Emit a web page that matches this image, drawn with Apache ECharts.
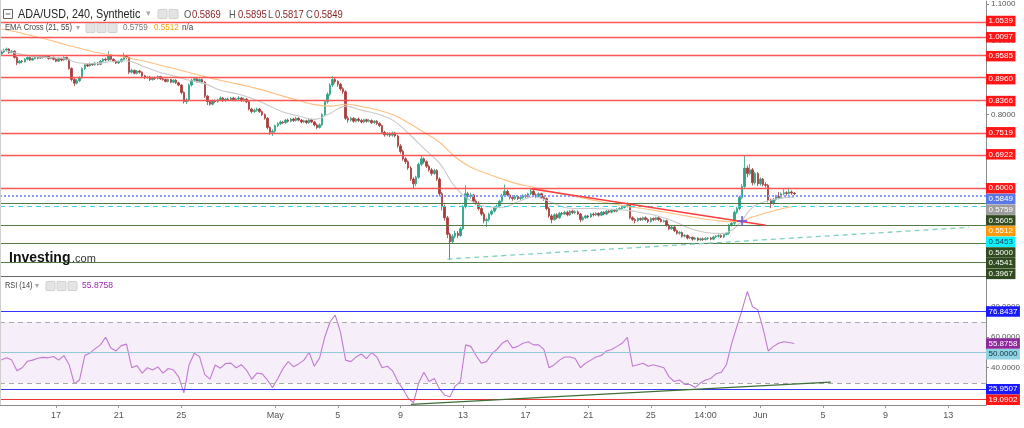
<!DOCTYPE html>
<html><head><meta charset="utf-8">
<script src="https://cdn.jsdelivr.net/npm/echarts@6/dist/echarts.min.js"></script>
<style>html,body{margin:0;padding:0;background:#fff;overflow:hidden}#c{width:1024px;height:428px}</style>
</head><body><div id="c"></div>
<script>
// ---------------- DATA ----------------
const symbolTitle = 'ADA/USD, 240, Synthetic';
const startTimeUTC = Date.UTC(2022, 3, 13, 14); // first 4h candle
const slotCount = 378;                          // visible 4h slots on the axis

const opens = [
0.965,0.970,0.975,0.978,0.968,0.972,0.955,0.940,0.945,0.943,
0.950,0.955,0.948,0.952,0.956,0.953,0.957,0.955,0.958,0.952,
0.955,0.950,0.945,0.952,0.948,0.955,0.950,0.925,0.895,0.885,
0.892,0.900,0.925,0.935,0.932,0.938,0.935,0.940,0.936,0.945,
0.950,0.948,0.962,0.950,0.945,0.940,0.944,0.950,0.958,0.955,
0.915,0.920,0.912,0.918,0.915,0.905,0.900,0.902,0.895,0.900,
0.898,0.903,0.897,0.895,0.890,0.895,0.888,0.893,0.886,0.880,
0.860,0.835,0.840,0.880,0.893,0.897,0.890,0.895,0.888,0.850,
0.835,0.828,0.838,0.835,0.840,0.845,0.838,0.842,0.840,0.845,
0.840,0.842,0.845,0.838,0.842,0.835,0.815,0.808,0.812,0.815,
0.808,0.800,0.790,0.765,0.752,0.755,0.770,0.775,0.780,0.778,
0.785,0.782,0.788,0.784,0.790,0.785,0.780,0.783,0.778,0.786,
0.780,0.772,0.765,0.772,0.800,0.835,0.855,0.880,0.895,0.890,
0.882,0.870,0.862,0.790,0.785,0.790,0.782,0.788,0.784,0.780,
0.786,0.782,0.784,0.778,0.782,0.776,0.770,0.752,0.745,0.748,
0.744,0.750,0.742,0.715,0.700,0.680,0.672,0.655,0.625,0.612,
0.630,0.665,0.680,0.672,0.660,0.650,0.640,0.648,0.625,0.585,
0.550,0.520,0.475,0.455,0.470,0.478,0.472,0.490,0.550,0.585,
0.578,0.582,0.565,0.560,0.545,0.530,0.512,0.515,0.530,0.538,
0.548,0.552,0.565,0.580,0.592,0.582,0.575,0.572,0.578,0.572,
0.575,0.580,0.578,0.585,0.592,0.582,0.578,0.585,0.575,0.572,
0.545,0.525,0.515,0.528,0.520,0.532,0.530,0.535,0.528,0.538,
0.534,0.536,0.530,0.515,0.520,0.525,0.522,0.530,0.528,0.532,
0.527,0.535,0.530,0.538,0.535,0.540,0.538,0.543,0.545,0.548,
0.552,0.555,0.520,0.515,0.512,0.518,0.515,0.520,0.515,0.510,
0.518,0.515,0.520,0.515,0.510,0.512,0.500,0.490,0.495,0.485,
0.478,0.480,0.470,0.472,0.465,0.467,0.462,0.465,0.460,0.463,
0.461,0.464,0.465,0.462,0.468,0.470,0.472,0.468,0.475,0.478,
0.500,0.505,0.535,0.545,0.575,0.605,0.655,0.640,0.650,0.615,
0.640,0.612,0.625,0.610,0.608,0.568,0.560,0.570,0.578,0.575,
0.585,0.588,0.586,0.590,0.5869];

const closes = [
0.970,0.975,0.978,0.968,0.972,0.955,0.940,0.945,0.943,0.950,
0.955,0.948,0.952,0.956,0.953,0.957,0.955,0.958,0.952,0.955,
0.950,0.945,0.952,0.948,0.955,0.950,0.925,0.895,0.885,0.892,
0.900,0.925,0.935,0.932,0.938,0.935,0.940,0.936,0.945,0.950,
0.948,0.962,0.950,0.945,0.940,0.944,0.950,0.958,0.955,0.915,
0.920,0.912,0.918,0.915,0.905,0.900,0.902,0.895,0.900,0.898,
0.903,0.897,0.895,0.890,0.895,0.888,0.893,0.886,0.880,0.860,
0.835,0.840,0.880,0.893,0.897,0.890,0.895,0.888,0.850,0.835,
0.828,0.838,0.835,0.840,0.845,0.838,0.842,0.840,0.845,0.840,
0.842,0.845,0.838,0.842,0.835,0.815,0.808,0.812,0.815,0.808,
0.800,0.790,0.765,0.752,0.755,0.770,0.775,0.780,0.778,0.785,
0.782,0.788,0.784,0.790,0.785,0.780,0.783,0.778,0.786,0.780,
0.772,0.765,0.772,0.800,0.835,0.855,0.880,0.895,0.890,0.882,
0.870,0.862,0.790,0.785,0.790,0.782,0.788,0.784,0.780,0.786,
0.782,0.784,0.778,0.782,0.776,0.770,0.752,0.745,0.748,0.744,
0.750,0.742,0.715,0.700,0.680,0.672,0.655,0.625,0.612,0.630,
0.665,0.680,0.672,0.660,0.650,0.640,0.648,0.625,0.585,0.550,
0.520,0.475,0.455,0.470,0.478,0.472,0.490,0.550,0.585,0.578,
0.582,0.565,0.560,0.545,0.530,0.512,0.515,0.530,0.538,0.548,
0.552,0.565,0.580,0.592,0.582,0.575,0.572,0.578,0.572,0.575,
0.580,0.578,0.585,0.592,0.582,0.578,0.585,0.575,0.572,0.545,
0.525,0.515,0.528,0.520,0.532,0.530,0.535,0.528,0.538,0.534,
0.536,0.530,0.515,0.520,0.525,0.522,0.530,0.528,0.532,0.527,
0.535,0.530,0.538,0.535,0.540,0.538,0.543,0.545,0.548,0.552,
0.555,0.520,0.515,0.512,0.518,0.515,0.520,0.515,0.510,0.518,
0.515,0.520,0.515,0.510,0.512,0.500,0.490,0.495,0.485,0.478,
0.480,0.470,0.472,0.465,0.467,0.462,0.465,0.460,0.463,0.461,
0.464,0.465,0.462,0.468,0.470,0.472,0.468,0.475,0.478,0.500,
0.505,0.535,0.545,0.575,0.605,0.655,0.640,0.650,0.615,0.640,
0.612,0.625,0.610,0.608,0.568,0.560,0.570,0.578,0.575,0.585,
0.588,0.586,0.590,0.587,0.5849];

const highs = [
0.974,0.979,0.982,0.980,0.975,0.974,0.958,0.948,0.948,0.953,
0.958,0.957,0.955,0.959,0.958,0.960,0.959,0.961,0.960,0.957,
0.958,0.953,0.955,0.955,0.958,0.957,0.952,0.928,0.899,0.896,
0.904,0.928,0.939,0.938,0.941,0.940,0.943,0.942,0.948,0.953,
0.954,0.972,0.965,0.953,0.948,0.947,0.953,0.968,0.962,0.957,
0.924,0.922,0.921,0.921,0.917,0.908,0.905,0.905,0.903,0.903,
0.906,0.905,0.900,0.898,0.898,0.897,0.896,0.896,0.889,0.883,
0.863,0.845,0.884,0.897,0.902,0.899,0.898,0.898,0.891,0.853,
0.839,0.841,0.841,0.843,0.849,0.848,0.845,0.846,0.848,0.848,
0.846,0.850,0.848,0.846,0.845,0.838,0.818,0.816,0.819,0.818,
0.811,0.803,0.793,0.768,0.760,0.773,0.779,0.784,0.783,0.788,
0.789,0.791,0.791,0.794,0.793,0.788,0.786,0.786,0.789,0.789,
0.783,0.776,0.776,0.804,0.840,0.860,0.885,0.905,0.900,0.893,
0.886,0.874,0.866,0.796,0.794,0.793,0.791,0.792,0.788,0.789,
0.789,0.788,0.787,0.785,0.785,0.779,0.773,0.756,0.752,0.751,
0.754,0.753,0.745,0.720,0.705,0.685,0.676,0.660,0.630,0.634,
0.670,0.690,0.684,0.676,0.664,0.655,0.653,0.652,0.630,0.590,
0.556,0.525,0.480,0.475,0.485,0.484,0.495,0.555,0.608,0.590,
0.588,0.585,0.570,0.564,0.550,0.535,0.520,0.534,0.542,0.552,
0.556,0.569,0.585,0.610,0.596,0.586,0.580,0.582,0.582,0.579,
0.584,0.584,0.588,0.600,0.596,0.586,0.589,0.588,0.579,0.575,
0.549,0.530,0.532,0.532,0.536,0.536,0.539,0.539,0.541,0.542,
0.540,0.540,0.533,0.524,0.528,0.528,0.533,0.534,0.535,0.535,
0.538,0.538,0.541,0.541,0.543,0.543,0.546,0.549,0.551,0.555,
0.562,0.558,0.524,0.519,0.521,0.521,0.523,0.524,0.519,0.521,
0.521,0.523,0.524,0.519,0.515,0.515,0.503,0.498,0.498,0.488,
0.484,0.483,0.476,0.475,0.470,0.469,0.468,0.467,0.466,0.466,
0.467,0.468,0.468,0.471,0.473,0.475,0.475,0.478,0.481,0.503,
0.510,0.540,0.550,0.580,0.612,0.690,0.662,0.666,0.655,0.645,
0.644,0.630,0.628,0.616,0.612,0.572,0.574,0.582,0.590,0.589,
0.598,0.592,0.602,0.594,0.5895];

const lows = [
0.962,0.967,0.972,0.965,0.966,0.952,0.934,0.938,0.939,0.941,
0.947,0.945,0.946,0.950,0.950,0.951,0.952,0.953,0.949,0.950,
0.947,0.942,0.943,0.945,0.946,0.947,0.922,0.890,0.877,0.882,
0.888,0.897,0.921,0.929,0.930,0.932,0.933,0.933,0.934,0.942,
0.944,0.945,0.947,0.942,0.937,0.937,0.941,0.947,0.950,0.910,
0.911,0.909,0.909,0.911,0.902,0.896,0.897,0.891,0.892,0.894,
0.895,0.894,0.892,0.887,0.887,0.885,0.885,0.883,0.877,0.855,
0.830,0.829,0.836,0.876,0.889,0.886,0.887,0.884,0.845,0.826,
0.824,0.825,0.831,0.832,0.837,0.834,0.835,0.837,0.837,0.836,
0.836,0.839,0.834,0.835,0.831,0.811,0.803,0.804,0.808,0.804,
0.796,0.786,0.760,0.745,0.742,0.751,0.766,0.771,0.774,0.775,
0.778,0.779,0.780,0.781,0.782,0.776,0.777,0.774,0.775,0.777,
0.768,0.760,0.762,0.768,0.796,0.830,0.850,0.875,0.884,0.876,
0.865,0.856,0.785,0.778,0.781,0.778,0.779,0.780,0.776,0.777,
0.778,0.779,0.774,0.775,0.772,0.766,0.748,0.740,0.741,0.739,
0.740,0.738,0.710,0.694,0.675,0.666,0.650,0.620,0.598,0.606,
0.626,0.660,0.667,0.655,0.645,0.634,0.636,0.620,0.578,0.540,
0.512,0.465,0.405,0.450,0.464,0.465,0.468,0.486,0.545,0.570,
0.572,0.560,0.555,0.540,0.525,0.505,0.495,0.510,0.526,0.534,
0.543,0.548,0.561,0.576,0.578,0.570,0.566,0.568,0.568,0.568,
0.571,0.574,0.574,0.581,0.578,0.573,0.575,0.571,0.566,0.540,
0.520,0.505,0.512,0.516,0.517,0.526,0.527,0.524,0.525,0.530,
0.530,0.527,0.508,0.511,0.517,0.518,0.519,0.524,0.525,0.523,
0.524,0.527,0.527,0.532,0.532,0.535,0.535,0.540,0.542,0.545,
0.548,0.516,0.511,0.505,0.509,0.511,0.512,0.512,0.506,0.507,
0.511,0.512,0.511,0.507,0.507,0.496,0.486,0.487,0.481,0.474,
0.474,0.466,0.467,0.461,0.462,0.458,0.459,0.456,0.457,0.457,
0.458,0.460,0.459,0.459,0.465,0.466,0.465,0.465,0.472,0.474,
0.496,0.500,0.530,0.540,0.570,0.600,0.630,0.635,0.608,0.610,
0.606,0.607,0.605,0.602,0.562,0.546,0.555,0.566,0.570,0.571,
0.581,0.580,0.583,0.582,0.5817];

// EMA values read every 6 candles (last entry = last candle)
const emaStep = 6;
const ema21 = [0.975,0.966,0.958,0.955,0.952,0.940,0.938,0.944,0.946,0.932,
0.916,0.905,0.893,0.884,0.866,0.857,0.844,0.826,0.807,0.796,
0.787,0.803,0.823,0.812,0.802,0.785,0.750,0.708,0.668,0.603,
0.566,0.550,0.548,0.563,0.577,0.565,0.548,0.545,0.545,0.543,
0.540,0.533,0.524,0.510,0.491,0.480,0.477,0.497,0.548,0.566,
0.574,0.5759];
const ema55 = [1.032,1.024,1.013,1.003,0.991,0.980,0.969,0.962,0.955,0.946,
0.936,0.925,0.914,0.903,0.893,0.884,0.874,0.863,0.850,0.838,
0.827,0.823,0.828,0.822,0.813,0.800,0.778,0.752,0.725,0.685,
0.657,0.640,0.625,0.612,0.603,0.592,0.583,0.575,0.566,0.558,
0.551,0.545,0.538,0.531,0.523,0.516,0.511,0.509,0.522,0.535,
0.546,0.5512];

// RSI(14) read every 2 candles
const rsiStep = 2;
const rsi14 = [45,46.5,45,38,40,44.2,45,46.2,46.8,46.5,
47.4,45,48,42,29.5,32,48,49.6,52.5,55,
60,53,51,54.5,55.5,40,41.5,36.5,40,38.5,
40.5,36.5,39.5,38.5,34,23.5,42,49.5,47.3,35.5,
32.5,41.8,39.7,42.8,43,40,42,38.5,32.5,36.5,
36,32,27,33,39.5,44,40.7,42.5,45,50.2,
41,46.3,60,70,74.5,63.5,45,44,47,49,
46,50,47,40,41,38,31,26,20,17,
30,37,31,33,26,22,21,28,31,55,
54,48,43,44,49,52,56,58,53,54,
56,57,55,55,52,40,42,45,47,47,
46,40,43,45,47,48,51,52,54,56,
60,41,42,43,41,42,41,40,34,31,
32,29,29,27,30,32,33,36,37,42,
56,67,78,90,80,78,66,51,54,56,
57,56.5,55.8758];

// horizontal levels
const resistanceLevels = [1.0539, 1.0097, 0.9585, 0.8960, 0.8366, 0.7519, 0.6922, 0.6000];
const supportLevels = [0.5605, 0.5000, 0.4541, 0.3967];
const cyanLevel = 0.5453;
const rsiUpperLevel = 76.8437, rsiMidLevel = 50, rsiLowerLevel = 25.9507, rsiRedLevel = 19.0902;
const rsiBand = [30, 70];

// trend lines [candle index, value]
const redTrend = [[203, 0.599], [293, 0.500]];
const tealTrend = [[171, 0.408], [371, 0.494]];
const rsiTrend = [[157, 16.0], [318, 30.6]];
const emaCross = [284, 0.511];

// x-axis tick labels
const xTickCats = ['2022-04-17 02:00','2022-04-21 02:00','2022-04-25 02:00','2022-05-01 02:00','2022-05-05 02:00','2022-05-09 02:00','2022-05-13 02:00','2022-05-17 02:00','2022-05-21 02:00','2022-05-25 02:00','2022-05-28 14:00','2022-06-01 02:00','2022-06-05 02:00','2022-06-09 02:00','2022-06-13 02:00'];
const xTickText = ['17','21','25','May','5','9','13','17','21','25','14:00','Jun','5','9','13'];
const priceAxisTicks = [1.1, 1.0, 0.8];
const rsiAxisTicks = [40, 60, 80];

// ---------------- BUILD ----------------
const p2 = n => (n < 10 ? '0' : '') + n;
const cats = [];
for (let k = 0; k < slotCount; k++) {
  const d = new Date(startTimeUTC + k * 4 * 3600e3);
  cats.push(d.getUTCFullYear() + '-' + p2(d.getUTCMonth() + 1) + '-' + p2(d.getUTCDate()) + ' ' + p2(d.getUTCHours()) + ':00');
}
const tickMap = {};
xTickCats.forEach((c, k) => tickMap[c] = xTickText[k]);

const N = closes.length;
const candles = closes.map((c, i) => [opens[i], c, Math.min(lows[i], opens[i], c), Math.max(highs[i], opens[i], c)]);

function sampled(arr, step) {
  const out = new Array(N).fill(null);
  arr.forEach((v, k) => { const idx = Math.min(k * step, N - 1); out[k === arr.length - 1 ? N - 1 : idx] = v; });
  return out;
}
const ema21Data = sampled(ema21, emaStep);
const ema55Data = sampled(ema55, emaStep);
const rsiData = sampled(rsi14, rsiStep);

const FONT = "'Liberation Sans', Arial, sans-serif";
const chart = echarts.init(document.getElementById('c'), null, {renderer: 'canvas'});

const hLine = (v, color, type, width) => ({yAxis: v, lineStyle: {color: color, type: type, width: width}});

const option = {
  animation: false,
  backgroundColor: '#ffffff',
  grid: [
    {left: 0, right: 38, top: 0, height: 276},
    {left: 0, right: 38, top: 277, height: 128}
  ],
  xAxis: [
    {type: 'category', gridIndex: 0, data: cats, boundaryGap: true,
      axisLine: {show: false}, axisTick: {show: false}, axisLabel: {show: false}, splitLine: {show: false}},
    {type: 'category', gridIndex: 1, data: cats, boundaryGap: true,
      axisLine: {show: true, lineStyle: {color: '#8a8a8a', width: 1}},
      axisTick: {show: true, alignWithLabel: true, length: 3, lineStyle: {color: '#999'},
        interval: (i, v) => tickMap[v] !== undefined},
      axisLabel: {show: true, color: '#555', fontSize: 9, fontFamily: FONT, margin: 6,
        interval: (i, v) => tickMap[v] !== undefined, formatter: v => tickMap[v] || ''},
      splitLine: {show: false}}
  ],
  yAxis: [
    {type: 'value', gridIndex: 0, position: 'right', min: 0.362, max: 1.108, scale: true,
      axisLine: {show: true, lineStyle: {color: '#8a8a8a'}},
      axisTick: {show: true, length: 3, customValues: priceAxisTicks, lineStyle: {color: '#888'}},
      axisLabel: {show: true, customValues: priceAxisTicks, formatter: v => v.toFixed(4), color: '#555', fontSize: 8, fontFamily: FONT, margin: 5},
      splitLine: {show: false}},
    {type: 'value', gridIndex: 1, position: 'right', min: 15.57, max: 99.5,
      axisLine: {show: true, lineStyle: {color: '#8a8a8a'}},
      axisTick: {show: true, length: 3, customValues: rsiAxisTicks, lineStyle: {color: '#888'}},
      axisLabel: {show: true, customValues: rsiAxisTicks, formatter: v => v.toFixed(4), color: '#555', fontSize: 8, fontFamily: FONT, margin: 5},
      splitLine: {show: false}}
  ],
  series: [
    {name: 'levels', type: 'line', xAxisIndex: 0, yAxisIndex: 0, data: [], z: 1, silent: true,
      markLine: {silent: true, symbol: ['none', 'none'], label: {show: false}, animation: false,
        data: [
          ...resistanceLevels.map(v => hLine(v, '#ff5555', 'solid', 1.3)),
          ...supportLevels.map(v => hLine(v, '#557a45', 'solid', 1.2)),
          hLine(closes[N - 1], '#8a9cff', 'dotted', 2),
          hLine(cyanLevel, '#38d3e3', [5, 4], 1)
        ]}},
    {name: 'ADA/USD', type: 'candlestick', xAxisIndex: 0, yAxisIndex: 0, data: candles, z: 3,
      barWidth: 2,
      itemStyle: {color: '#2ba184', color0: '#a63c3a', borderColor: '#2ba184', borderColor0: '#a63c3a', borderWidth: 0.8}},
    {name: 'EMA21', type: 'line', xAxisIndex: 0, yAxisIndex: 0, data: ema21Data, connectNulls: true, smooth: 0.4,
      showSymbol: false, z: 4, lineStyle: {color: '#c9c9c9', width: 1.1}},
    {name: 'EMA55', type: 'line', xAxisIndex: 0, yAxisIndex: 0, data: ema55Data, connectNulls: true, smooth: 0.4,
      showSymbol: false, z: 4, lineStyle: {color: '#ffbf80', width: 1.1}},
    {name: 'trends', type: 'line', xAxisIndex: 0, yAxisIndex: 0, data: [], z: 5, silent: true,
      markLine: {silent: true, symbol: ['none', 'none'], label: {show: false}, animation: false,
        data: [
          [{coord: redTrend[0], lineStyle: {color: '#ff3d3d', width: 1.5, type: 'solid'}}, {coord: redTrend[1]}],
          [{coord: tealTrend[0], lineStyle: {color: '#7fcfc2', width: 1.3, type: [5, 4]}}, {coord: tealTrend[1]}]
        ]}},
    {name: 'cross', type: 'scatter', xAxisIndex: 0, yAxisIndex: 0, z: 6,
      data: [emaCross], symbol: 'path://M4,0H6V4H10V6H6V10H4V6H0V4H4Z', symbolSize: 10,
      itemStyle: {color: '#6358d8'}},
    {name: 'RSI', type: 'line', xAxisIndex: 1, yAxisIndex: 1, data: rsiData, connectNulls: true,
      showSymbol: false, z: 4, lineStyle: {color: '#c27ad2', width: 1.1},
      markArea: {silent: true, itemStyle: {color: 'rgba(186,120,205,0.13)'},
        data: [[{yAxis: rsiBand[0]}, {yAxis: rsiBand[1]}]]},
      markLine: {silent: true, symbol: ['none', 'none'], label: {show: false}, animation: false,
        data: [
          hLine(rsiBand[1], '#aaaaaa', [5, 4], 1),
          hLine(rsiBand[0], '#aaaaaa', [5, 4], 1),
          hLine(rsiUpperLevel, '#3434ff', 'solid', 1.2),
          hLine(rsiMidLevel, '#93c8d8', 'solid', 1.2),
          hLine(rsiLowerLevel, '#3434ff', 'solid', 1.2),
          hLine(rsiRedLevel, '#ee3333', 'solid', 1.2),
          [{coord: rsiTrend[0], lineStyle: {color: '#3f6e36', width: 1.2, type: 'solid'}}, {coord: rsiTrend[1]}]
        ]}}
  ]
};
chart.setOption(option);

// ---------- price tags, stacked downward like the reference ----------
function buildTags(axisIdx, list, x) {
  const H = 10.7;
  const items = list.slice().sort((a, b) => b.v - a.v);
  let prev = -Infinity;
  const g = [];
  items.forEach(t => {
    let y = chart.convertToPixel({yAxisIndex: axisIdx}, t.v);
    if (y < prev + H) y = prev + H;
    prev = y;
    g.push({type: 'text', z: 50, x: x, y: y,
      style: {text: t.v.toFixed(4), font: '8px ' + FONT, fill: t.fg, backgroundColor: t.bg,
        padding: [1.5, 2.5, 1, 2.5], verticalAlign: 'middle', align: 'left'}});
  });
  return g;
}
const lastEma21 = ema21[ema21.length - 1], lastEma55 = ema55[ema55.length - 1];
const priceTags = [
  ...resistanceLevels.map(v => ({v, bg: '#ff1616', fg: '#ffffff'})),
  {v: closes[N - 1], bg: '#5a78e6', fg: '#ffffff'},
  {v: lastEma21, bg: '#9d9d9d', fg: '#ffffff'},
  {v: lastEma55, bg: '#ff9a0a', fg: '#ffffff'},
  {v: cyanLevel, bg: '#0ff0ff', fg: '#0d3b4a'},
  ...supportLevels.map(v => ({v, bg: '#2f4b1f', fg: '#ffffff'}))
];
const rsiTags = [
  {v: rsiUpperLevel, bg: '#1a1aff', fg: '#ffffff'},
  {v: rsi14[rsi14.length - 1], bg: '#8d2a9b', fg: '#ffffff'},
  {v: rsiMidLevel, bg: '#8fd2e2', fg: '#123040'},
  {v: rsiLowerLevel, bg: '#1a1aff', fg: '#ffffff'},
  {v: rsiRedLevel, bg: '#ff1616', fg: '#ffffff'}
];

const iconBox = (x, y) => ({type: 'rect', z: 60, shape: {x: x, y: y, width: 9, height: 9, r: 1}, style: {fill: '#e4e4e4', stroke: '#d0d0d0'}});
const txt = (s, x, y, font, fill, sx) => ({type: 'text', z: 60, x: x, y: y, scaleX: sx || 1,
  style: {text: s, font: font, fill: fill, verticalAlign: 'middle'}});

const F13 = '13px ' + FONT, F11 = '11.5px ' + FONT, F9 = '9px ' + FONT;
const header = [
  // collapse box
  {type: 'rect', z: 60, shape: {x: 3.5, y: 9.5, width: 9, height: 9}, style: {fill: '#fff', stroke: '#666', lineWidth: 1}},
  {type: 'line', z: 61, shape: {x1: 5.5, y1: 14, x2: 10.5, y2: 14}, style: {stroke: '#666', lineWidth: 1}},
  txt(symbolTitle, 18, 14.5, F13, '#222', 0.83),
  txt('▾', 146, 14, '9px ' + FONT, '#aaa'),
  iconBox(158, 9.5), iconBox(169, 9.5),
  txt('O', 184, 14.5, F11, '#555', 0.82), txt(opens[N - 1].toFixed(4), 192, 14.5, F11, '#8a1f1f', 0.82),
  txt('H', 229, 14.5, F11, '#555', 0.82), txt(highs[N - 1].toFixed(4), 238, 14.5, F11, '#8a1f1f', 0.82),
  txt('L', 268, 14.5, F11, '#555', 0.82), txt(lows[N - 1].toFixed(4), 275, 14.5, F11, '#8a1f1f', 0.82),
  txt('C', 306, 14.5, F11, '#555', 0.82), txt(closes[N - 1].toFixed(4), 314, 14.5, F11, '#8a1f1f', 0.82),
  // EMA legend
  txt('EMA Cross (21, 55)', 5, 28, F9, '#444', 0.85),
  txt('▾', 76, 28, '8px ' + FONT, '#aaa'),
  iconBox(86, 23.5), iconBox(97, 23.5), iconBox(108, 23.5),
  txt(lastEma21.toFixed(4), 123, 28, F9, '#777', 0.9),
  txt(lastEma55.toFixed(4), 154, 28, F9, '#f5a000', 0.9),
  txt('n/a', 182, 28, F9, '#444', 0.9),
  // RSI legend
  txt('RSI (14)', 5, 286, F9, '#444', 0.82),
  txt('▾', 35, 286, '8px ' + FONT, '#aaa'),
  iconBox(46, 281.5), iconBox(57, 281.5), iconBox(68, 281.5),
  txt(rsi14[rsi14.length - 1].toFixed(4), 82, 286, F9, '#9b2cad', 0.95),
  // Investing logo
  txt('Investing', 9, 258, 'bold 14px ' + FONT, '#111'),
  txt('.com', 72, 259, '11px ' + FONT, '#333'),
  // pane separator
  {type: 'line', z: 40, shape: {x1: 0, y1: 276.5, x2: 986, y2: 276.5}, style: {stroke: '#666', lineWidth: 1}},
  {type: 'line', z: 40, shape: {x1: 0.5, y1: 0, x2: 0.5, y2: 405}, style: {stroke: '#cfcfcf', lineWidth: 1}}
];

chart.setOption({graphic: [
  ...header,
  ...buildTags(0, priceTags, 986),
  ...buildTags(1, rsiTags, 986)
]});
</script></body></html>
